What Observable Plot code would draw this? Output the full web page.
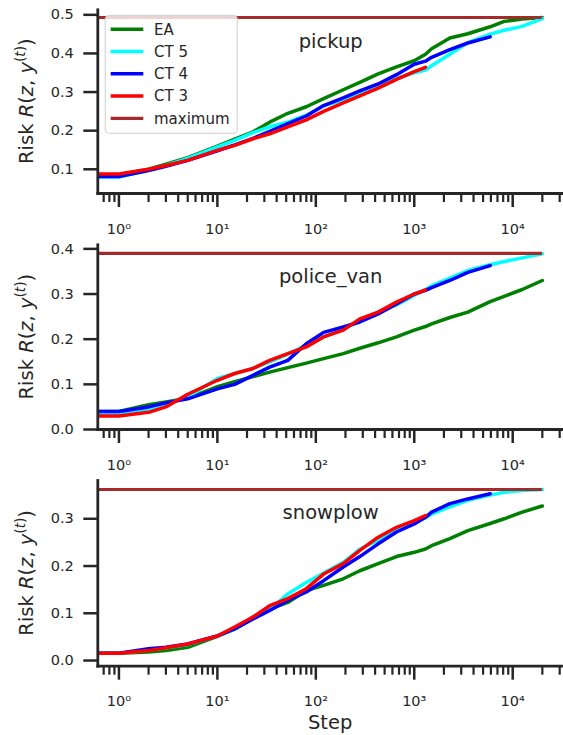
<!DOCTYPE html>
<html><head><meta charset="utf-8">
<script src="https://cdn.jsdelivr.net/npm/d3@7"></script>
<script src="https://cdn.jsdelivr.net/npm/@observablehq/plot@0.6"></script>
<style>
body{margin:0;background:#fff;}
#chart{width:563px;height:735px;overflow:hidden;font-family:"DejaVu Sans";color:#262626;}
#chart svg{display:block;overflow:visible;font-family:"DejaVu Sans";}
</style></head><body><div id="chart"></div>
<script>
// ---- data ----
const steps = [0.6, 1, 2, 3, 5, 10, 15, 23, 34, 52, 80, 120, 190, 280, 430, 660, 1000, 1300, 1500, 2300, 3500, 5900, 8200, 12500, 20000];
const seriesNames = ["EA", "CT 5", "CT 4", "CT 3"];
const seriesColors = ["#008000", "#00ffff", "#0000ff", "#ff0000"];
const maxName = "maximum";
const maxColor = "#a52a2a";
const panelNames = ["pickup", "police_van", "snowplow"];

const pickupEA  = [0.085,0.085,0.100,0.113,0.130,0.160,0.178,0.197,0.222,0.245,0.262,0.283,0.306,0.325,0.347,0.365,0.381,0.398,0.412,0.440,0.451,0.469,0.483,0.489,0.493];
const pickupCT5 = [0.080,0.080,0.098,0.110,0.128,0.158,0.175,0.195,0.210,0.222,0.240,0.264,0.280,0.295,0.313,0.335,0.350,0.357,0.368,0.398,0.428,0.450,0.460,0.470,0.490];
const pickupCT4 = [0.081,0.081,0.097,0.108,0.123,0.148,0.163,0.180,0.198,0.218,0.238,0.265,0.285,0.303,0.321,0.345,0.372,0.380,0.390,0.410,0.427,0.443];
const pickupCT3 = [0.088,0.088,0.100,0.110,0.123,0.149,0.162,0.179,0.192,0.210,0.228,0.250,0.272,0.290,0.310,0.333,0.353,0.364];

const policeEA  = [0.040,0.040,0.055,0.061,0.069,0.095,0.106,0.117,0.127,0.137,0.147,0.157,0.168,0.180,0.192,0.205,0.220,0.228,0.234,0.248,0.260,0.283,0.295,0.310,0.330];
const policeCT5 = [0.035,0.035,0.045,0.056,0.072,0.113,0.124,0.135,0.150,0.167,0.187,0.205,0.222,0.240,0.260,0.276,0.297,0.310,0.318,0.335,0.352,0.365,0.372,0.380,0.389];
const policeCT4 = [0.040,0.040,0.050,0.059,0.068,0.090,0.100,0.120,0.138,0.153,0.190,0.215,0.227,0.238,0.256,0.278,0.300,0.308,0.314,0.330,0.348,0.363];
const policeCT3 = [0.030,0.030,0.038,0.050,0.078,0.109,0.124,0.135,0.153,0.168,0.183,0.205,0.220,0.245,0.260,0.282,0.300,0.309];

const snowEA  = [0.0155,0.0155,0.018,0.021,0.028,0.051,0.067,0.092,0.109,0.123,0.148,0.159,0.173,0.190,0.205,0.220,0.229,0.236,0.243,0.258,0.275,0.290,0.300,0.314,0.327];
const snowCT5 = [0.0155,0.0155,0.022,0.027,0.034,0.052,0.066,0.090,0.108,0.141,0.165,0.185,0.208,0.236,0.254,0.279,0.293,0.302,0.310,0.325,0.339,0.350,0.356,0.360,0.362];
const snowCT4 = [0.0155,0.0155,0.025,0.028,0.035,0.052,0.067,0.088,0.106,0.127,0.145,0.169,0.198,0.220,0.247,0.272,0.289,0.303,0.314,0.332,0.342,0.353];
const snowCT3 = [0.0155,0.0155,0.021,0.027,0.035,0.052,0.071,0.092,0.116,0.131,0.152,0.183,0.205,0.233,0.261,0.282,0.296,0.307];

const maxima = [0.493, 0.390, 0.362];
const yDomains = [[0.0373, 0.513], [0, 0.409], [-0.012, 0.381]];
const yTicks = [[0.1,0.2,0.3,0.4,0.5],[0,0.1,0.2,0.3,0.4],[0,0.1,0.2,0.3]];
const xDomain = [0.61, 32800];
const xMajor = [1, 10, 100, 1000, 10000];
const xMajorLabels = ["10\u2070", "10\u00b9", "10\u00b2", "10\u00b3", "10\u2074"];
const xMinor = [0.7,0.8,0.9, 2,3,4,5,6,7,8,9, 20,30,40,50,60,70,80,90, 200,300,400,500,600,700,800,900, 2000,3000,4000,5000,6000,7000,8000,9000, 20000,30000];

const panelSeries = [
  [pickupEA, pickupCT5, pickupCT4, pickupCT3],
  [policeEA, policeCT5, policeCT4, policeCT3],
  [snowEA, snowCT5, snowCT4, snowCT3]
];

// ---- layout ----
const W = 563;
const heights = [235, 235, 265];
const mTop = [9.3, 9.3, 10];
const mBottom = [42, 41, 69.3];
const mLeft = 97.3;
const ink = "#262626";

const root = document.getElementById("chart");

panelSeries.forEach((series, p) => {
  const marks = [];
  series.forEach((vals, s) => {
    const data = vals.map((v, i) => ({step: steps[i], value: v}));
    marks.push(Plot.line(data, {x: "step", y: "value", stroke: seriesColors[s], strokeWidth: 3.5, clip: true}));
  });
  marks.push(Plot.ruleY([maxima[p]], {x1: steps[0], x2: steps[steps.length - 1], stroke: maxColor, strokeWidth: 3.2, clip: true}));
  marks.push(Plot.text([panelNames[p]], {frameAnchor: "top", dy: 32, lineAnchor: "middle", fontSize: 19.5, fill: ink}));
  marks.push(Plot.axisY({ticks: yTicks[p], tickFormat: d3.format(".1f"), tickSize: 14, tickPadding: 10, strokeWidth: 2.5, fontSize: 14.5, label: null, stroke: ink, fill: ink}));
  marks.push(Plot.axisX({ticks: xMinor, tickFormat: () => "", tickSize: 9, strokeWidth: 2.2, label: null, stroke: ink}));
  marks.push(Plot.axisX({ticks: xMajor, tickFormat: d => xMajorLabels[xMajor.indexOf(d)], tickSize: 14, tickPadding: 16, strokeWidth: 2.5, fontSize: 14.5, label: null, stroke: ink, fill: ink}));
  marks.push(Plot.frame({anchor: "left", stroke: ink, strokeWidth: 2.8}));
  marks.push(Plot.frame({anchor: "bottom", stroke: ink, strokeWidth: 2.8}));

  const svg = Plot.plot({
    width: W, height: heights[p],
    marginLeft: mLeft, marginRight: 0, marginTop: mTop[p], marginBottom: mBottom[p],
    x: {type: "log", domain: xDomain},
    y: {domain: yDomains[p]},
    style: {fontFamily: "DejaVu Sans", color: ink, background: "transparent"},
    marks
  });

  const sel = d3.select(svg);
  const cy = (mTop[p] + heights[p] - mBottom[p]) / 2;
  // y label with italic math parts
  const t = sel.append("text")
    .attr("transform", `translate(33,${cy}) rotate(-90)`)
    .attr("text-anchor", "middle")
    .attr("font-size", 19.5)
    .attr("fill", ink)
    .attr("font-family", "DejaVu Sans");
  t.append("tspan").text("Risk ");
  t.append("tspan").attr("font-style", "italic").text("R");
  t.append("tspan").text("(");
  t.append("tspan").attr("font-style", "italic").text("z");
  t.append("tspan").text(", ");
  t.append("tspan").attr("font-style", "italic").text("y");
  t.append("tspan").attr("font-size", 13.6).attr("dy", -8).text("(");
  t.append("tspan").attr("font-size", 13.6).attr("font-style", "italic").text("t");
  t.append("tspan").attr("font-size", 13.6).text(")");
  t.append("tspan").attr("dy", 8).text(")");

  if (p === 0) {
    const g = sel.append("g");
    g.append("rect").attr("x", 105.3).attr("y", 15.3).attr("width", 132).attr("height", 118)
      .attr("rx", 4).attr("fill", "#fff").attr("fill-opacity", 0.8)
      .attr("stroke", "#cccccc").attr("stroke-opacity", 0.8).attr("stroke-width", 1.2);
    const names = seriesNames.concat([maxName]);
    const cols = seriesColors.concat([maxColor]);
    names.forEach((n, i) => {
      const yy = 29.3 + i * 22.25;
      g.append("line").attr("x1", 110.7).attr("x2", 143.3).attr("y1", yy).attr("y2", yy)
        .attr("stroke", cols[i]).attr("stroke-width", i === 4 ? 3.2 : 3.5);
      g.append("text").attr("x", 154).attr("y", yy).attr("dy", "0.35em")
        .attr("text-anchor", "start")
        .attr("font-size", 15).attr("fill", ink).attr("font-family", "DejaVu Sans").text(n);
    });
  }
  if (p === 2) {
    sel.append("text").attr("x", (mLeft + W) / 2).attr("y", 258.5)
      .attr("text-anchor", "middle").attr("font-size", 19.5).attr("fill", ink)
      .attr("font-family", "DejaVu Sans").text("Step");
  }
  root.appendChild(svg);
});
</script></body></html>
